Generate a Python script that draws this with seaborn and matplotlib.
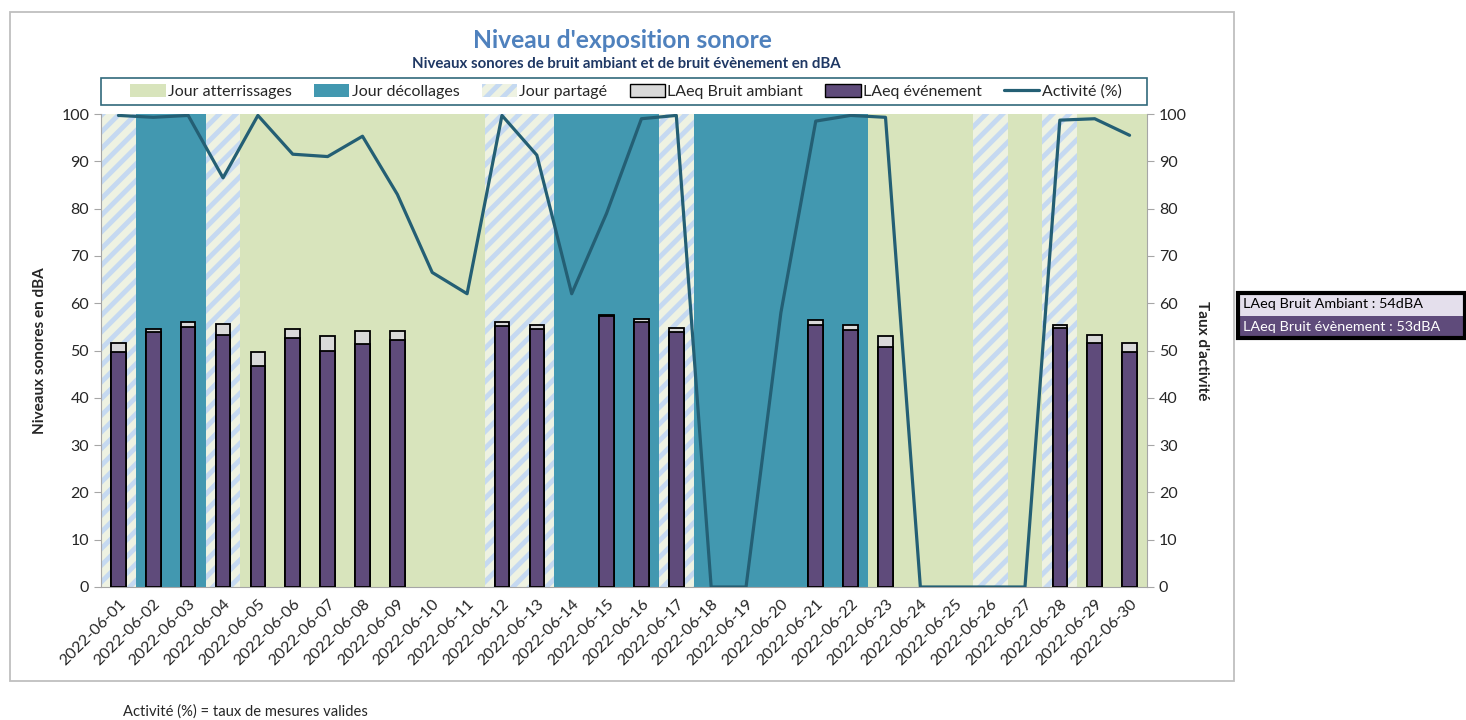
import numpy as np
import pandas as pd
import matplotlib.pyplot as plt
import matplotlib.patches as mpatches
import matplotlib.lines as mlines
import seaborn as sns

# données
dates = [f"2022-06-{d:02d}" for d in range(1, 31)]
# type de journée : A = atterrissages, D = décollages, P = partagé
day_type = ["P", "D", "D", "P", "A", "A", "A", "A", "A", "A",
            "A", "P", "P", "D", "D", "D", "P", "D", "D", "D",
            "D", "D", "A", "A", "A", "P", "A", "P", "A", "A"]
laeq_ambiant = [51.6, 54.5, 56.1, 55.7, 49.6, 54.5, 53.0, 54.2, 54.1, None,
                None, 56.0, 55.4, None, 57.6, 56.6, 54.7, None, None, None,
                56.4, 55.3, 53.0, None, None, None, None, 55.4, 53.3, 51.5]
laeq_evenement = [49.6, 53.9, 55.0, 53.3, 46.8, 52.6, 49.9, 51.4, 52.2, None,
                  None, 55.2, 54.5, None, 57.2, 56.0, 53.9, None, None, None,
                  55.4, 54.4, 50.7, None, None, None, None, 54.7, 51.5, 49.7]
activite = [99.7, 99.3, 99.7, 86.5, 99.7, 91.5, 91.0, 95.3, 83.0, 66.5,
            62.0, 99.7, 91.3, 62.0, 79.0, 99.0, 99.7, 0, 0, 58.0,
            98.5, 99.7, 99.3, 0, 0, 0, 0, 98.7, 99.0, 95.5]

df = pd.DataFrame({
    "Date": dates,
    "Ambiant": pd.to_numeric(pd.Series(laeq_ambiant), errors="coerce"),
    "Evenement": pd.to_numeric(pd.Series(laeq_evenement), errors="coerce"),
    "Activite": activite,
})
df["pos"] = np.arange(len(df))

# couleurs
c_atter = "#D8E4BC"
c_decol = "#4298B0"
c_part_bg = "#EEF2E2"
c_part_hatch = "#C5D9F1"
c_amb = "#D9D9D9"
c_evt = "#5F4B7B"
c_line = "#245F74"
c_spine = "#A6A6A6"

sns.set_style("white")
plt.rcParams["font.family"] = ["Lato", "DejaVu Sans"]
plt.rcParams["hatch.linewidth"] = 3.5

fig = plt.figure(figsize=(14.66, 7.2), dpi=100)
ax = fig.add_axes([101 / 1466, 1 - 587 / 720, (1147 - 101) / 1466, (587 - 114) / 720])

# fonds par type de journée
for i, t in enumerate(day_type):
    if t == "A":
        ax.axvspan(i - 0.5, i + 0.5, facecolor=c_atter, lw=0, zorder=0)
    elif t == "D":
        ax.axvspan(i - 0.5, i + 0.5, facecolor=c_decol, lw=0, zorder=0)
    else:
        ax.axvspan(i - 0.5, i + 0.5, facecolor=c_part_bg, edgecolor=c_part_hatch,
                   hatch="//", lw=0, zorder=0)

# barres
sns.barplot(data=df, x="Date", y="Ambiant", order=dates, color=c_amb,
            width=0.42, edgecolor="black", linewidth=1.3, saturation=1, ax=ax, zorder=2)
sns.barplot(data=df, x="Date", y="Evenement", order=dates, color=c_evt,
            width=0.42, edgecolor="black", linewidth=1.3, saturation=1, ax=ax, zorder=3)

ax.set_xlim(-0.5, 29.5)
ax.set_ylim(0, 100)
ax.set_yticks(range(0, 101, 10))
ax.set_xticks(range(30))
ax.set_xticklabels(dates, rotation=45, ha="right", rotation_mode="anchor", fontsize=11.5)
ax.set_xticks(np.arange(-0.5, 30, 1), minor=True)
ax.tick_params(axis="x", which="major", length=0, pad=7)
ax.tick_params(axis="x", which="minor", length=5, color=c_spine, direction="out")
ax.tick_params(axis="y", length=5, color=c_spine, direction="out", labelsize=11.5, left=True)
ax.set_xlabel("")
ax.set_ylabel("Niveaux sonores en dBA", fontsize=11, fontweight="bold", labelpad=10)
for s in ["left", "bottom"]:
    ax.spines[s].set_color(c_spine)
for s in ["top", "right"]:
    ax.spines[s].set_visible(False)

# activité sur l'axe secondaire
ax2 = ax.twinx()
sns.lineplot(data=df, x="pos", y="Activite", color=c_line, linewidth=2.3, ax=ax2, zorder=4)
ax2.set_ylim(0, 100)
ax2.set_xlim(-0.5, 29.5)
ax2.set_yticks(range(0, 101, 10))
ax2.tick_params(axis="y", length=5, color=c_spine, direction="out", labelsize=11.5, right=True)
ax2.set_ylabel("Taux d'activité", fontsize=11, fontweight="bold", rotation=-90, labelpad=16)
ax2.set_xlabel("")
ax2.spines["right"].set_color(c_spine)
for s in ["top", "left", "bottom"]:
    ax2.spines[s].set_visible(False)

# légende
handles = [
    mpatches.Patch(facecolor=c_atter, edgecolor="none", label="Jour atterrissages"),
    mpatches.Patch(facecolor=c_decol, edgecolor="none", label="Jour décollages"),
    mpatches.Patch(facecolor=c_part_bg, edgecolor=c_part_hatch, hatch="//", lw=0, label="Jour partagé"),
    mpatches.Patch(facecolor=c_amb, edgecolor="black", label="LAeq Bruit ambiant"),
    mpatches.Patch(facecolor=c_evt, edgecolor="black", label="LAeq événement"),
    mlines.Line2D([], [], color=c_line, linewidth=2.3, label="Activité (%)"),
]
fig.legend(handles=handles, loc="center", ncol=6,
           bbox_to_anchor=(626 / 1466, 1 - 91.5 / 720),
           fontsize=11.5, frameon=False, handlelength=2.2, handleheight=0.9,
           handletextpad=0.15, columnspacing=1.4)
fig.patches.append(mpatches.Rectangle((101 / 1466, 1 - 105 / 720), 1046 / 1466, 27 / 720,
                                      transform=fig.transFigure, fill=False,
                                      edgecolor="#31697C", linewidth=1.2))

# titres
fig.text(622 / 1466, 1 - 41 / 720, "Niveau d'exposition sonore", ha="center", va="center",
         fontsize=17.7, fontweight="bold", color="#4F81BD")
fig.text(626 / 1466, 1 - 64 / 720, "Niveaux sonores de bruit ambiant et de bruit évènement en dBA",
         ha="center", va="center", fontsize=10.8, fontweight="bold", color="#1F3864")

# cadre du graphique
fig.patches.append(mpatches.Rectangle((10 / 1466, 1 - 681 / 720), 1224 / 1466, 669 / 720,
                                      transform=fig.transFigure, fill=False,
                                      edgecolor="#BFBFBF", linewidth=1.3, zorder=-1))

# encart des moyennes
fig.patches.append(mpatches.Rectangle((1238 / 1466, 1 - 316 / 720), 228 / 1466, 22 / 720,
                                      transform=fig.transFigure, facecolor="#E4DFEC",
                                      edgecolor="none"))
fig.patches.append(mpatches.Rectangle((1238 / 1466, 1 - 338 / 720), 228 / 1466, 22 / 720,
                                      transform=fig.transFigure, facecolor=c_evt,
                                      edgecolor="none"))
fig.patches.append(mpatches.Rectangle((1238 / 1466, 1 - 338 / 720), 227 / 1466, 45 / 720,
                                      transform=fig.transFigure, fill=False,
                                      edgecolor="black", linewidth=3))
fig.text(1243 / 1466, 1 - 304.5 / 720, "LAeq Bruit Ambiant : 54dBA", ha="left", va="center",
         fontsize=10.4, color="black")
fig.text(1243 / 1466, 1 - 327 / 720, "LAeq Bruit évènement : 53dBA", ha="left", va="center",
         fontsize=10.4, color="white")

fig.text(123 / 1466, 1 - 712 / 720, "Activité (%) = taux de mesures valides", ha="left",
         va="center", fontsize=10.6)

fig.savefig("out.png", dpi=100)
